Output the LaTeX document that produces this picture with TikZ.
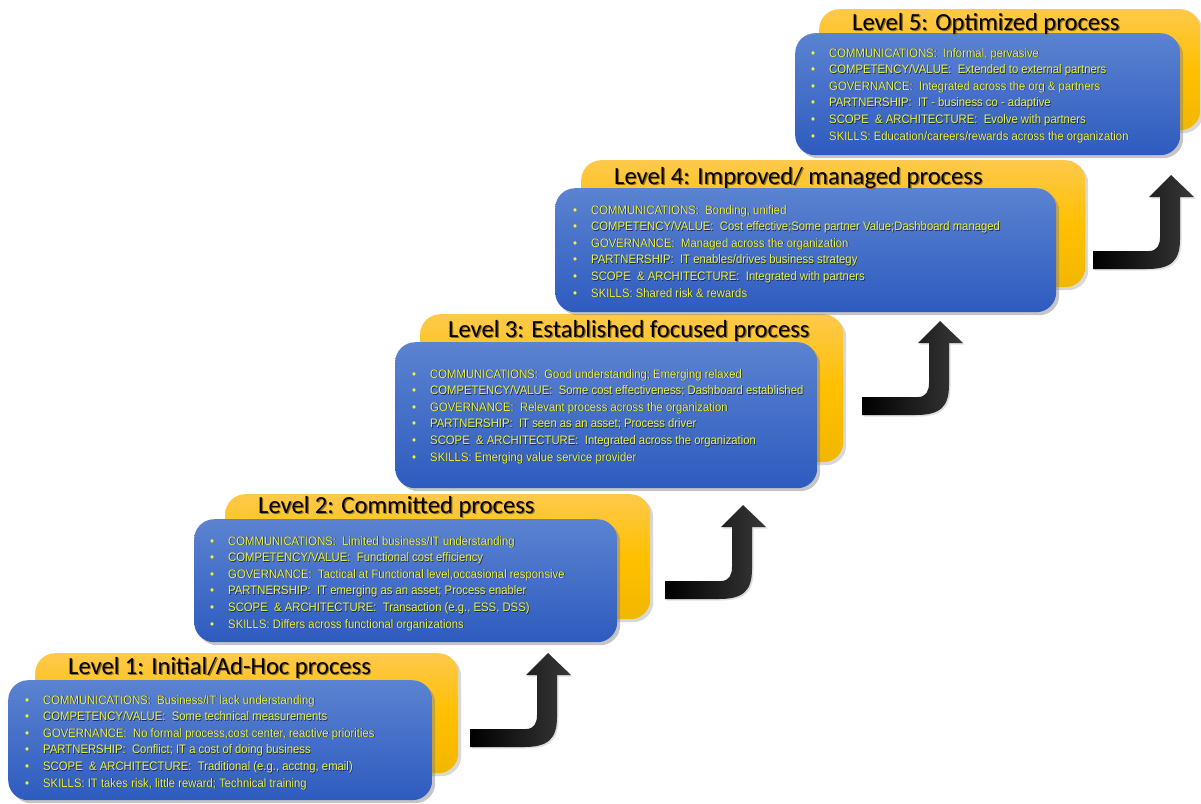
\documentclass[tikz,border=0pt]{standalone}
\usepackage{fontspec}
\setmainfont{Liberation Sans}
\newfontfamily\bodyfont[FakeStretch=0.92]{Liberation Sans}
\newfontfamily\titlefont{Carlito}
\usetikzlibrary{shadows}

\definecolor{tabtop}{HTML}{FEC94C}
\definecolor{tabmid}{HTML}{FFC000}
\definecolor{tabbot}{HTML}{F2B700}
\definecolor{cardtop}{HTML}{5B83D1}
\definecolor{cardbot}{HTML}{2E5BBF}
\definecolor{itemtext}{HTML}{EEF23A}
\definecolor{itemshade}{HTML}{17285A}
\definecolor{titleshade}{HTML}{8F6C18}

% one bullet line, with its dark shadow
\newcommand\itm[1]{\makebox[18pt][l]{\textbullet}\rlap{\kern.7pt\raisebox{-.7pt}{\color{itemshade}#1}}#1}
% level heading with soft shadow
\newcommand\ttl[1]{\rlap{\kern1.2pt\raisebox{-1.2pt}{\color{titleshade}#1}}#1}

\tikzset{
  tab/.style={anchor=north west, rounded corners=20pt, top color=tabtop, bottom color=tabbot, middle color=tabmid,
    drop shadow={shadow xshift=3pt, shadow yshift=-3pt, opacity=.3}},
  card/.style={anchor=north west, rounded corners=20pt, top color=cardtop, bottom color=cardbot,
    drop shadow={shadow xshift=3pt, shadow yshift=-3pt, opacity=.45}},
  title/.style={anchor=base west, inner sep=0pt, font=\titlefont\fontsize{24.6}{28}\selectfont},
  % anchored at the baseline of the last of six lines
  items/.style={anchor=base west, inner sep=0pt, align=left, text=itemtext, font=\bodyfont\fontsize{12.3}{16.6}\selectfont},
  upturn/.pic={
    \path[left color=black, right color=black!78, drop shadow={shadow xshift=1.5pt, shadow yshift=-1.5pt, opacity=.25}]
      (0,0) -- (23,22) -- (9,22) -- (9,64) .. controls (9,86) and (0,94) .. (-24,94) -- (-78,94) -- (-78,76)
      -- (-22,76) .. controls (-14,76) and (-11,70) .. (-11,62) -- (-11,22) -- (-22,22) -- cycle;
  }
}

\begin{document}
\begin{tikzpicture}[x=1pt,y=-1pt]
\fill[white] (0,0) rectangle (1201,803);
\useasboundingbox (0,0) rectangle (1201,803);

% level 1
\node[tab, minimum width=423, minimum height=120] (tab1) at (35,653) {};
\node[card, minimum width=424, minimum height=120] (card1) at (8,680) {};
\node[title] (ttl1) at (68,674) {\ttl{Level 1: Initial/Ad-Hoc process}};
\node[items] (lst1) at (25,787) {\itm{COMMUNICATIONS:\ \ Business/IT lack understanding}\\
  \itm{COMPETENCY/VALUE:\ \ Some technical measurements}\\
  \itm{GOVERNANCE:\ \ No formal process,cost center, reactive priorities}\\
  \itm{PARTNERSHIP:\ \ Conflict; IT a cost of doing business}\\
  \itm{SCOPE\ \ \& ARCHITECTURE:\ \ Traditional (e.g., acctng, email)}\\
  \itm{SKILLS: IT takes risk, little reward; Technical training}};

% level 2
\node[tab, minimum width=425, minimum height=125] (tab2) at (225,494) {};
\node[card, minimum width=423, minimum height=123] (card2) at (194,519) {};
\node[title] (ttl2) at (258,513) {\ttl{Level 2: Committed process}};
\node[items] (lst2) at (210,628) {\itm{COMMUNICATIONS:\ \ Limited business/IT understanding}\\
  \itm{COMPETENCY/VALUE:\ \ Functional cost efficiency}\\
  \itm{GOVERNANCE:\ \ Tactical at Functional level,occasional responsive}\\
  \itm{PARTNERSHIP:\ \ IT emerging as an asset; Process enabler}\\
  \itm{SCOPE\ \ \& ARCHITECTURE:\ \ Transaction (e.g., ESS, DSS)}\\
  \itm{SKILLS: Differs across functional organizations}};

% level 3
\node[tab, minimum width=423, minimum height=148] (tab3) at (420,314) {};
\node[card, minimum width=422, minimum height=146] (card3) at (395,342) {};
\node[title] (ttl3) at (448,337) {\ttl{Level 3: Established focused process}};
\node[items] (lst3) at (412,461) {\itm{COMMUNICATIONS:\ \ Good understanding; Emerging relaxed}\\
  \itm{COMPETENCY/VALUE:\ \ Some cost effectiveness; Dashboard established}\\
  \itm{GOVERNANCE:\ \ Relevant process across the organization}\\
  \itm{PARTNERSHIP:\ \ IT seen as an asset; Process driver}\\
  \itm{SCOPE\ \ \& ARCHITECTURE:\ \ Integrated across the organization}\\
  \itm{SKILLS: Emerging value service provider}};

% level 4
\node[tab, minimum width=504, minimum height=127] (tab4) at (581,160) {};
\node[card, minimum width=501, minimum height=124] (card4) at (555,188) {};
\node[title] (ttl4) at (614,184) {\ttl{Level 4: Improved/ managed process}};
\node[items] (lst4) at (573,297) {\itm{COMMUNICATIONS:\ \ Bonding, unified}\\
  \itm{COMPETENCY/VALUE:\ \ Cost effective;Some partner Value;Dashboard managed}\\
  \itm{GOVERNANCE:\ \ Managed across the organization}\\
  \itm{PARTNERSHIP:\ \ IT enables/drives business strategy}\\
  \itm{SCOPE\ \ \& ARCHITECTURE:\ \ Integrated with partners}\\
  \itm{SKILLS: Shared risk \& rewards}};

% level 5
\node[tab, minimum width=381, minimum height=121] (tab5) at (819,9) {};
\node[card, minimum width=385, minimum height=122] (card5) at (795,33) {};
\node[title] (ttl5) at (852,30) {\ttl{Level 5: Optimized process}};
\node[items] (lst5) at (811,140) {\itm{COMMUNICATIONS:\ \ Informal, pervasive}\\
  \itm{COMPETENCY/VALUE:\ \ Extended to external partners}\\
  \itm{GOVERNANCE:\ \ Integrated across the org \& partners}\\
  \itm{PARTNERSHIP:\ \ IT - business co - adaptive}\\
  \itm{SCOPE\ \ \& ARCHITECTURE:\ \ Evolve with partners}\\
  \itm{SKILLS: Education/careers/rewards across the organization}};

% step arrows
\coordinate (bend1) at (548,653);
\coordinate (bend2) at (743,505);
\coordinate (bend3) at (940,321);
\coordinate (bend4) at (1171,175);
\pic at (bend1) {upturn};
\pic at (bend2) {upturn};
\pic at (bend3) {upturn};
\pic at (bend4) {upturn};

\end{tikzpicture}
\end{document}
